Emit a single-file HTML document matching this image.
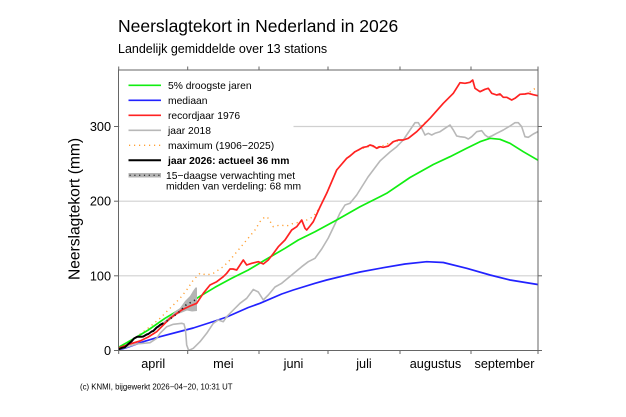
<!DOCTYPE html>
<html>
<head>
<meta charset="utf-8">
<style>
html,body{margin:0;padding:0;background:#fff;}
svg{display:block;}
text{font-family:"Liberation Sans",Arial,sans-serif;fill:#000;}
</style>
</head>
<body>
<svg width="626" height="417" viewBox="0 0 626 417" xmlns="http://www.w3.org/2000/svg">
<rect x="0" y="0" width="626" height="417" fill="#fff"/>

<!-- titles -->
<text x="118" y="32" font-size="17.5">Neerslagtekort in Nederland in 2026</text>
<text x="118" y="53" font-size="12.5">Landelijk gemiddelde over 13 stations</text>

<!-- gridlines -->
<g stroke="#d0d0d0" stroke-width="1.2" fill="none">
  <line x1="118.5" y1="275.8" x2="538" y2="275.8"/>
  <line x1="118.5" y1="201.2" x2="538" y2="201.2"/>
  <line x1="118.5" y1="126.5" x2="538" y2="126.5"/>
</g>

<!-- legend background -->
<rect x="119.5" y="71" width="174" height="121" fill="#fff"/>

<!-- series (clip to plot) -->
<defs>
  <clipPath id="plot"><rect x="118.5" y="70" width="419.5" height="280.5"/></clipPath>
</defs>
<g clip-path="url(#plot)" fill="none" stroke-linejoin="round" stroke-linecap="round">
  <!-- orange dotted maximum -->
  <polyline stroke="#ffa033" stroke-width="1.4" stroke-dasharray="1.2 3.8" stroke-linecap="butt"
    points="118.7,348 120,347.3 136.7,336.7 150,326.7 160,318.3 170,308.3 180,298.3 186.7,290 193.3,280 200,273.3 206.7,275 213.3,273.3 223.3,266.7 230,260 238.3,250 245,242 255,230 260,221.7 265,216.7 268,218 273.3,226.7 280,225 286.7,226 293.3,223.3 303.3,221.7 313.3,216.7 320,207 326.7,193.3 336.7,170 346.7,158.3 355,151.7 366.7,146.7 380,146.7 393.3,141.7 403.3,140 410,130 415,122.7 418.3,122.7 421,126 430,118.3 443.3,103.3 453.3,93.3 460,82.7 465,83.3 470,82.3 472.7,80 475,88.3 480,91.7 485,89.3 488.3,88.3 491.7,93.3 496.7,95 500,94 503.3,97.3 506.7,97.3 511.7,100 515,98.3 520,94.3 525,94 528.3,93.3 531,91 534,89 537.7,89.5"/>
  <!-- blue median -->
  <polyline stroke="#2222ff" stroke-width="1.7"
    points="118.7,350 130,346.5 143.3,341.7 160,336.7 181.7,331 193.3,328 215,321 226.7,317 248.3,307.5 260,303.3 281.7,294 293.3,290 315,283.3 326.7,280 350,274.3 360,272 383.3,267.7 405,264 426.7,261.7 443.3,262.5 466.7,268.3 490,275 510,280 537.7,284.5"/>
  <!-- gray 2018 -->
  <polyline stroke="#b8b8b8" stroke-width="1.6"
    points="118.7,349.5 125,347.5 136.7,344 150,342.7 156.7,338.3 160,333.3 166.7,326.7 173.3,324.3 181.7,323.3 184,324 185.5,330 186.7,345 188.5,350 190,349.8 193.3,348.3 200,341.7 206.7,333.3 213.3,323.3 218.3,320 223.3,321.7 226.7,316.7 233.3,310 240,303.3 246.7,298.3 253.3,289.5 258.3,292 263.3,300 268.3,295 275,287 281.7,283.3 291.7,275 301.7,266.7 308.3,261.7 315,258.3 321.7,249 328.3,238 335,224 340,213 345,205 350,203.3 356.7,195 368,177 380,161 390,152 396.7,146.7 403.3,140 410,130 415,122.7 418.3,122.7 421.7,128.3 425,135 428.3,133.3 431.7,135 435,133.3 440,131.7 445,128.3 450,125 453.3,130 456.7,136 460,136.7 465,137.3 468.3,139 471.7,136.7 476.7,131.7 481.7,130.7 485,135 488.3,137.3 491.7,136 496.7,133.3 503.3,130 510,126 515,122.7 518.3,122.7 521.7,126.7 525,136.7 528.3,137.3 533.3,134 537.7,131.7"/>
  <!-- green 5% driest -->
  <polyline stroke="#11ee11" stroke-width="1.7"
    points="118.7,348.3 120,346.5 135,338 148.3,330 165,318.3 181.7,308.3 198.3,297.3 215,287.3 231.7,278.3 248.3,270 265,260 285,248.3 298.3,240 315,231.7 336.7,220 360,206.7 386.7,193.3 410,177.5 433.3,164.5 450,156.7 466.7,148.3 480,141.7 490,138.3 500,139.3 510,143.3 523.3,151.7 537.7,160"/>
  <!-- forecast band -->
  <polygon fill="#b4b4b4" stroke="none"
    points="161,324 165,320.5 170,316.5 175,311.5 180,308 185,301 190,296 193,291 195.5,287.5 197,287.5 197,311 192,311.5 187,310.5 182,312.5 177,314.5 172,318.5 167,322.5 162,325.5"/>
  <!-- red 1976 -->
  <polyline stroke="#ff2222" stroke-width="1.7"
    points="118.7,349 120,347.5 130,344 140,341 148.3,337 156.7,331.7 163.3,325 170,318.3 181.7,310 190,306 196.7,303.3 203.3,293.3 210,285 216.7,281.7 223.3,276.7 226.7,273.3 230,269 233,269 236.7,270 240,265 243.3,260 246.7,265 251.7,263.3 258.3,261.7 263.3,264 268.3,260 273,254 278.3,246.7 285,240 291.7,230 296.7,226.7 301.7,220 305,228.3 306.7,230 310,226 313.3,221.7 320,207 326.7,193.3 336.7,170 346.7,158.3 350,156 355,151.7 358.3,150 363.3,147.3 366.7,146.7 370,145 373.3,146 376.7,148.3 380,146.7 383.3,147.3 388.3,146 393.3,141.7 398.3,140 403.3,140 408.3,138.3 416.7,131.7 430,118.3 443.3,103.3 453.3,93.3 460,82.7 465,83.3 470,82.3 472.7,80 475,88.3 480,91.7 485,89.3 488.3,88.3 491.7,93.3 496.7,95 500,94 503.3,97.3 506.7,97.3 511.7,100 515,98.3 520,94.3 525,94 528.3,93.3 533.3,94.7 537.7,95.7"/>
  <!-- forecast dotted -->
  <polyline stroke="#222" stroke-width="1.6" stroke-dasharray="1.3 3.6" stroke-linecap="butt"
    points="162.4,323.6 170,319 178,313 186,305 196,299.5"/>
  <!-- black 2026 -->
  <polyline stroke="#000" stroke-width="2"
    points="118.7,349.3 121.7,348 125,347.2 128.3,344 131.7,341.2 134,338.5 137.3,336.7 141.7,336.7 143.3,336.5 146.7,334.5 148.3,334 151.7,331.5 153.3,331 156.7,327.5 158.3,326.5 160,325 162.4,323.6"/>
</g>

<!-- axes box -->
<rect x="118.5" y="70" width="419.5" height="280.5" fill="none" stroke="#666" stroke-width="1"/>
<g stroke="#666" stroke-width="1">
  <!-- x ticks bottom -->
  <line x1="118.7" y1="350.5" x2="118.7" y2="354"/>
  <line x1="187.7" y1="350.5" x2="187.7" y2="354"/>
  <line x1="259" y1="350.5" x2="259" y2="354"/>
  <line x1="328" y1="350.5" x2="328" y2="354"/>
  <line x1="400" y1="350.5" x2="400" y2="354"/>
  <line x1="471" y1="350.5" x2="471" y2="354"/>
  <line x1="538" y1="350.5" x2="538" y2="354"/>
  <!-- x ticks top -->
  <line x1="118.7" y1="70" x2="118.7" y2="66.5"/>
  <line x1="187.7" y1="70" x2="187.7" y2="66.5"/>
  <line x1="259" y1="70" x2="259" y2="66.5"/>
  <line x1="328" y1="70" x2="328" y2="66.5"/>
  <line x1="400" y1="70" x2="400" y2="66.5"/>
  <line x1="471" y1="70" x2="471" y2="66.5"/>
  <line x1="538" y1="70" x2="538" y2="66.5"/>
  <!-- y ticks left -->
  <line x1="114" y1="350.5" x2="118.5" y2="350.5"/>
  <line x1="114" y1="275.8" x2="118.5" y2="275.8"/>
  <line x1="114" y1="201.2" x2="118.5" y2="201.2"/>
  <line x1="114" y1="126.5" x2="118.5" y2="126.5"/>
  <!-- y ticks right -->
  <line x1="538" y1="350.5" x2="542" y2="350.5"/>
  <line x1="538" y1="275.8" x2="542" y2="275.8"/>
  <line x1="538" y1="201.2" x2="542" y2="201.2"/>
  <line x1="538" y1="126.5" x2="542" y2="126.5"/>
</g>

<!-- y tick labels -->
<g font-size="12.7" text-anchor="end">
  <text x="111" y="355">0</text>
  <text x="111" y="280.3">100</text>
  <text x="111" y="205.7">200</text>
  <text x="111" y="131">300</text>
</g>

<!-- month labels -->
<g font-size="12.7" text-anchor="middle">
  <text x="153.2" y="368">april</text>
  <text x="223.4" y="368">mei</text>
  <text x="293.5" y="368">juni</text>
  <text x="364" y="368">juli</text>
  <text x="435.5" y="368">augustus</text>
  <text x="504.5" y="368">september</text>
</g>

<!-- y axis label -->
<text x="0" y="0" font-size="15.6" text-anchor="middle" transform="translate(79.5,209) rotate(-90)">Neerslagtekort (mm)</text>

<!-- legend -->
<g fill="none">
  <line x1="128.5" y1="85.3" x2="161" y2="85.3" stroke="#11ee11" stroke-width="1.7"/>
  <line x1="128.5" y1="100.3" x2="161" y2="100.3" stroke="#2222ff" stroke-width="1.7"/>
  <line x1="128.5" y1="115.3" x2="161" y2="115.3" stroke="#ff2222" stroke-width="1.7"/>
  <line x1="128.5" y1="130.3" x2="161" y2="130.3" stroke="#b8b8b8" stroke-width="1.6"/>
  <line x1="129" y1="145.3" x2="161" y2="145.3" stroke="#ffa033" stroke-width="1.4" stroke-dasharray="1.2 3.8"/>
  <line x1="128.5" y1="160.3" x2="161" y2="160.3" stroke="#000" stroke-width="2"/>
  <line x1="128.5" y1="175.3" x2="161" y2="175.3" stroke="#b4b4b4" stroke-width="4.5"/>
  <line x1="129.5" y1="175.3" x2="161" y2="175.3" stroke="#333" stroke-width="1.4" stroke-dasharray="1.2 3.6"/>
</g>
<g font-size="10.3">
  <text x="168" y="89">5% droogste jaren</text>
  <text x="168" y="104">mediaan</text>
  <text x="168" y="119">recordjaar 1976</text>
  <text x="168" y="134">jaar 2018</text>
  <text x="168" y="149">maximum (1906−2025)</text>
  <text x="168" y="164" font-weight="bold">jaar 2026: actueel 36 mm</text>
  <text x="166" y="178.8">15−daagse verwachting met</text>
  <text x="166" y="189.5">midden van verdeling: 68 mm</text>
</g>

<!-- footer -->
<text x="80" y="389.5" font-size="7.8">(c) KNMI, bijgewerkt 2026−04−20, 10:31 UT</text>
</svg>
</body>
</html>
